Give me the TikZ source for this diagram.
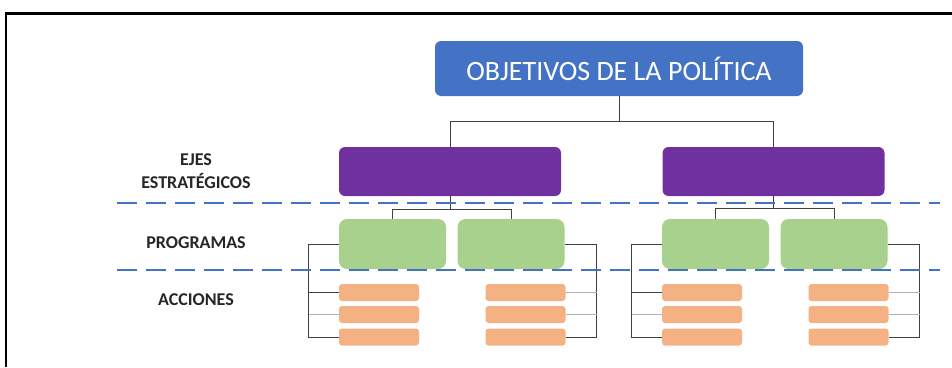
\documentclass[tikz,border=0pt]{standalone}
\usepackage{fontspec}
\setmainfont{Carlito}
\usetikzlibrary{calc}
\definecolor{objblue}{HTML}{4472C4}
\definecolor{ejepurple}{HTML}{7030A0}
\definecolor{proggreen}{HTML}{A9D18E}
\definecolor{accorange}{HTML}{F4B183}
\definecolor{labelgray}{HTML}{262626}
\tikzset{
    objbox/.style={
        fill=objblue, rounded corners=6pt, text=white,
        minimum width=368pt, minimum height=55pt,
        font=\fontsize{28}{30}\selectfont
    },
    ejebox/.style={
        fill=ejepurple, rounded corners=6pt,
        minimum width=222pt, minimum height=49pt
    },
    progbox/.style={
        fill=proggreen, rounded corners=8pt,
        minimum width=107pt, minimum height=50pt
    },
    accbox/.style={
        fill=accorange, rounded corners=3pt,
        minimum width=80pt, minimum height=17pt
    },
    levellabel/.style={
        text=labelgray, align=center,
        font=\fontsize{18}{23}\selectfont\bfseries
    },
    link/.style={draw=black!75, line width=0.8pt},
    sublink/.style={draw=black!30, line width=0.8pt},
    levelsep/.style={draw=objblue, line width=2pt, dash pattern=on 20pt off 9pt}
}
\begin{document}
\begin{tikzpicture}[x=1pt,y=-1pt]
    \useasboundingbox (0,0) rectangle (952,367);
    % frame
    \draw[line width=3pt] (5,13.5) -- (952,13.5);
    \draw[line width=1.5pt] (6,13) -- (6,367);

    % level names
    \node[levellabel] (lEje) at (196,171.5) {EJES\\ESTRATÉGICOS};
    \node[levellabel] (lProg) at (196,243) {PROGRAMAS};
    \node[levellabel] (lAcc) at (196,300) {ACCIONES};

    % tree
    \node[objbox] (obj) at (619,68.5) {OBJETIVOS DE LA POLÍTICA};
    \node[ejebox] (e1) at (450,171.5) {};
    \node[ejebox] (e2) at (773.5,171.5) {};
    \node[progbox] (p11) at (392.5,244) {};
    \node[progbox] (p12) at (511,244) {};
    \node[progbox] (p21) at (715.5,244) {};
    \node[progbox] (p22) at (834,244) {};
    \foreach \grp/\xl/\xr in {1/379/525.5, 2/702/848.5} {
        \foreach \row/\yy in {1/292.5, 2/314.5, 3/337} {
            \node[accbox] (a\grp1\row) at (\xl,\yy) {};
            \node[accbox] (a\grp2\row) at (\xr,\yy) {};
        }
    }

    % connectors
    \draw[link] (obj.south) -- ++(0,25) coordinate (hub) -| (e1.north);
    \draw[link] (hub) -| (e2.north);
    \draw[link] (e1.south) -- ++(0,13) coordinate (hub1) -| (p11.north);
    \draw[link] (hub1) -| (p12.north);
    \draw[link] (e2.south) -- ++(0,12) coordinate (hub2) -| (p21.north);
    \draw[link] (hub2) -| (p22.north);
    \foreach \grp in {1,2} {
        \draw[link] (p\grp1.west) -- ++(-30,0) coordinate (bl\grp) |- (a\grp13.west);
        \draw[link] (bl\grp |- a\grp11.west) -- (a\grp11.west);
        \draw[sublink] (bl\grp |- a\grp12.west) -- (a\grp12.west);
        \draw[link] (p\grp2.east) -- ++(32,0) coordinate (br\grp) |- (a\grp23.east);
        \draw[sublink] (br\grp |- a\grp21.east) -- (a\grp21.east);
        \draw[sublink] (br\grp |- a\grp22.east) -- (a\grp22.east);
    }

    % level separators
    \draw[levelsep] (117,203) -- (940,203);
    \draw[levelsep] (117,270) -- (940,270);
\end{tikzpicture}
\end{document}
